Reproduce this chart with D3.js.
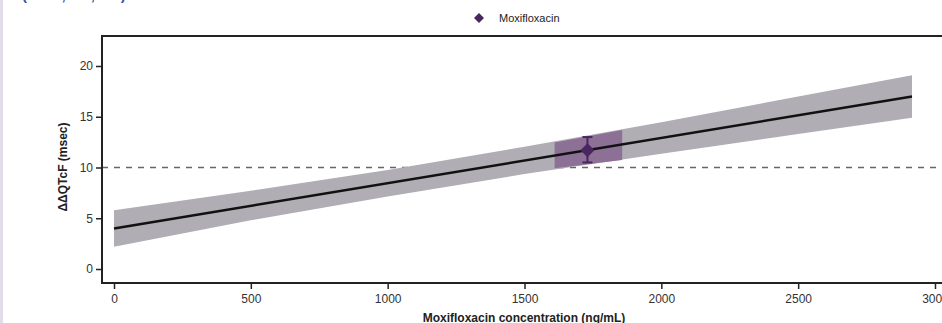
<!DOCTYPE html>
<html>
<head>
<meta charset="utf-8">
<script src="https://cdn.jsdelivr.net/npm/d3@7"></script>
<style>
body { margin: 0; background: #fff; }
svg { display: block; font-family: "Liberation Sans", Arial, sans-serif; }
</style>
</head>
<body>
<div id="chart"></div>
<script>
// model fit: concentration vs ddQTcF
var lineConc = [0, 2916];
var lineVal = [4.0, 17.0];

// 90% CI band of the fit
var bandConc = [0, 500, 1000, 1500, 2000, 2500, 2916];
var bandLow = [2.2, 4.8, 7.15, 9.35, 11.35, 13.3, 14.9];
var bandHigh = [5.8, 7.7, 9.75, 12.05, 14.45, 17.0, 19.1];

// moxifloxacin observed concentration range (purple shading)
var moxiConc = [1610, 1857];
var moxiLow = [9.93, 10.75];
var moxiHigh = [12.46, 13.7];

// observed moxifloxacin point with error bar
var pointConc = 1730;
var pointVal = 11.7;
var pointLow = 10.5;
var pointHigh = 13.0;

var xTicks = [0, 500, 1000, 1500, 2000, 2500, 3000];
var yTicks = [0, 5, 10, 15, 20];
var threshold = 10;

var W = 942, H = 323;

var svg = d3.select("#chart").append("svg")
	.attr("width", W)
	.attr("height", H);

var x = d3.scaleLinear().domain([0, 3000]).range([114, 935]);
var y = d3.scaleLinear().domain([0, 20]).range([269, 66]);

// page edge decorations
svg.append("rect")
	.attr("x", 0).attr("y", 0).attr("width", 3).attr("height", H)
	.attr("fill", "#e2dcea");
svg.append("text")
	.attr("x", 22).attr("y", 0)
	.attr("fill", "#3b55a5")
	.attr("font-size", 15)
	.attr("font-weight", "bold")
	.text("(n = 1,658, 1:1)");

// threshold dashed line (sits under the band)
svg.append("line")
	.attr("x1", 102).attr("x2", W)
	.attr("y1", y(threshold)).attr("y2", y(threshold))
	.attr("stroke", "#666")
	.attr("stroke-width", 1.5)
	.attr("stroke-dasharray", "6,6");

// band
var area = d3.area()
	.x(function(d){ return x(d[0]); })
	.y0(function(d){ return y(d[1]); })
	.y1(function(d){ return y(d[2]); });

svg.append("path")
	.datum(bandConc.map(function(c, i){ return [c, bandLow[i], bandHigh[i]]; }))
	.attr("d", area)
	.attr("fill", "#b0adb5");

svg.append("path")
	.datum(moxiConc.map(function(c, i){ return [c, moxiLow[i], moxiHigh[i]]; }))
	.attr("d", area)
	.attr("fill", "#8c7096");

// fitted line
svg.append("path")
	.datum(lineConc.map(function(c, i){ return [c, lineVal[i]]; }))
	.attr("d", d3.line().x(function(d){ return x(d[0]); }).y(function(d){ return y(d[1]); }))
	.attr("fill", "none")
	.attr("stroke", "#111")
	.attr("stroke-width", 2.5);

// error bar
var eb = svg.append("g").attr("stroke", "#4a2660").attr("stroke-width", 2);
eb.append("line")
	.attr("x1", x(pointConc)).attr("x2", x(pointConc))
	.attr("y1", y(pointLow)).attr("y2", y(pointHigh));
eb.append("line")
	.attr("x1", x(pointConc) - 5).attr("x2", x(pointConc) + 5)
	.attr("y1", y(pointLow)).attr("y2", y(pointLow));
eb.append("line")
	.attr("x1", x(pointConc) - 5).attr("x2", x(pointConc) + 5)
	.attr("y1", y(pointHigh)).attr("y2", y(pointHigh));

var diamond = d3.symbol().type(d3.symbolSquare);
svg.append("path")
	.attr("d", diamond.size(98)())
	.attr("transform", "translate(" + x(pointConc) + "," + y(pointVal) + ") rotate(45)")
	.attr("fill", "#4a2660");

// frame
svg.append("path")
	.attr("d", "M" + (W + 5) + ",36H102V283H" + (W + 5))
	.attr("fill", "none")
	.attr("stroke", "#222")
	.attr("stroke-width", 2);

// axes
var xAxis = svg.append("g")
	.attr("transform", "translate(0,283)")
	.call(d3.axisBottom(x).tickValues(xTicks).tickSize(6).tickPadding(5).tickFormat(d3.format("")));
xAxis.select(".domain").remove();
xAxis.selectAll(".tick line").attr("stroke", "#222").attr("stroke-width", 1.5);
xAxis.selectAll(".tick text").attr("fill", "#333").attr("font-size", 12).attr("font-family", "Liberation Sans, Arial, sans-serif");

var yAxis = svg.append("g")
	.attr("transform", "translate(102,0)")
	.call(d3.axisLeft(y).tickValues(yTicks).tickSize(6).tickPadding(3));
yAxis.select(".domain").remove();
yAxis.selectAll(".tick line").attr("stroke", "#222").attr("stroke-width", 1.5);
yAxis.selectAll(".tick text").attr("fill", "#333").attr("font-size", 12).attr("font-family", "Liberation Sans, Arial, sans-serif");

// axis titles
svg.append("text")
	.attr("x", 524).attr("y", 322)
	.attr("text-anchor", "middle")
	.attr("font-size", 12)
	.attr("font-weight", "bold")
	.attr("fill", "#222")
	.text("Moxifloxacin concentration (ng/mL)");

svg.append("text")
	.attr("transform", "translate(67,167) rotate(-90)")
	.attr("text-anchor", "middle")
	.attr("font-size", 12)
	.attr("font-weight", "bold")
	.attr("fill", "#222")
	.text("ΔΔQTcF (msec)");

// legend
svg.append("path")
	.attr("d", diamond.size(50)())
	.attr("transform", "translate(479,18) rotate(45)")
	.attr("fill", "#4a2660");
svg.append("text")
	.attr("x", 499).attr("y", 22)
	.attr("font-size", 11)
	.attr("fill", "#222")
	.text("Moxifloxacin");
</script>
</body>
</html>
